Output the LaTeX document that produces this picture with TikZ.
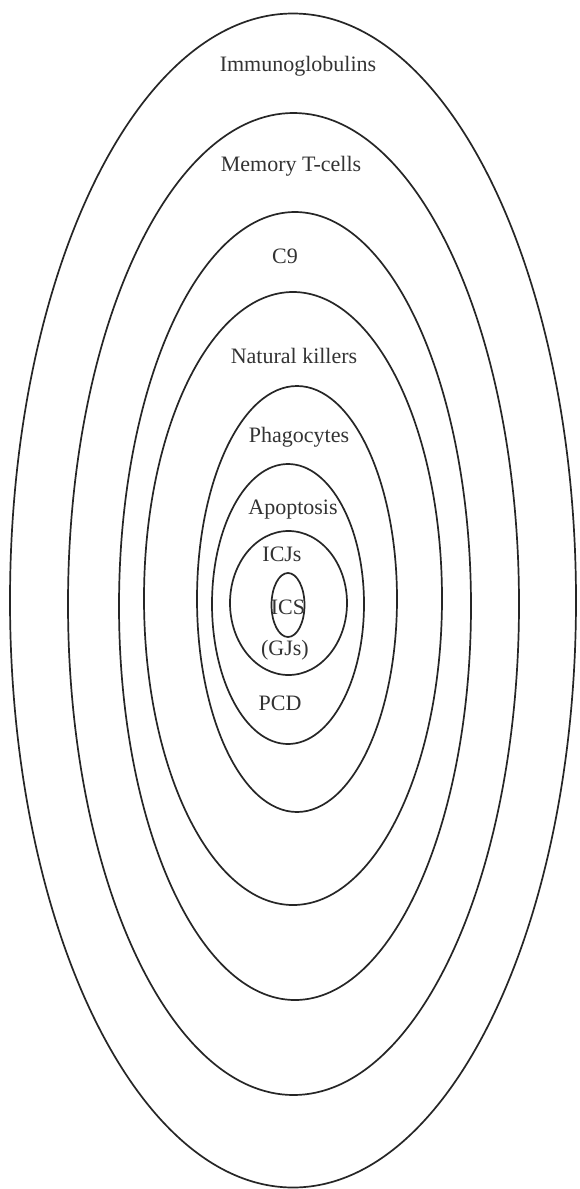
\documentclass[tikz,border=0pt]{standalone}
\usepackage{fontspec}
\setmainfont{Liberation Serif}
\begin{document}
\begin{tikzpicture}[x=0.5pt,y=-0.5pt,
  ring/.style={draw=black!85, line width=0.85pt},
  lbl/.style={font=\fontsize{11}{13}\selectfont, text=black!80, inner sep=0pt}]
\useasboundingbox (0,0) rectangle (579,1189);
\fill[white] (0,0) rectangle (579,1189);
% ellipses: centre, x-radius, y-radius (pixels)
\draw[ring] (293,600.5) ellipse [x radius=283, y radius=587];
\draw[ring] (293.5,604) ellipse [x radius=225.5, y radius=491];
\draw[ring] (295,606) ellipse [x radius=176, y radius=394];
\draw[ring] (293,598.5) ellipse [x radius=149, y radius=306.5];
\draw[ring] (297,599) ellipse [x radius=100, y radius=213];
\draw[ring] (288,604) ellipse [x radius=76, y radius=140];
\draw[ring] (288.5,603) ellipse [x radius=58.5, y radius=72];
\draw[ring] (288,605) ellipse [x radius=16.5, y radius=32];
% labels
\node[lbl] (ig) at (298,66) {Immunoglobulins};
\node[lbl] (mt) at (291,166) {Memory T-cells};
\node[lbl] (c9) at (285,256) {C9};
\node[lbl] (nk) at (294,356) {Natural killers};
\node[lbl] (ph) at (299,437) {Phagocytes};
\node[lbl] (ap) at (293,510) {Apoptosis};
\node[lbl] (icj) at (282,554) {ICJs};
\node[lbl] (ics) at (288,607) {ICS};
\node[lbl] (gj) at (285,650) {(GJs)};
\node[lbl] (pcd) at (280,703) {PCD};
\end{tikzpicture}
\end{document}
